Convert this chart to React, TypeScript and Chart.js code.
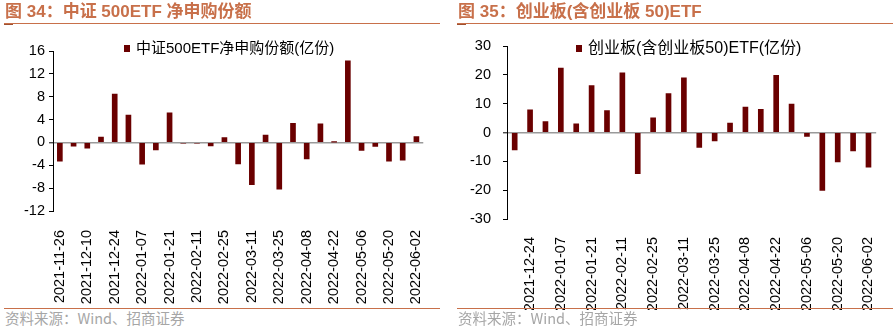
import React, { useEffect, useRef } from "react";
import { Chart, registerables } from "chart.js";

Chart.register(...registerables);

// ---------- data ----------
const leftDates = [
  "2021-11-26", "2021-12-03", "2021-12-10", "2021-12-17", "2021-12-24", "2021-12-31",
  "2022-01-07", "2022-01-14", "2022-01-21", "2022-01-28", "2022-02-11", "2022-02-18",
  "2022-02-25", "2022-03-04", "2022-03-11", "2022-03-18", "2022-03-25", "2022-04-01",
  "2022-04-08", "2022-04-15", "2022-04-22", "2022-04-29", "2022-05-06", "2022-05-13",
  "2022-05-20", "2022-05-27", "2022-06-02",
];
const leftValues = [
  -3.3, -0.64, -1.0, 0.93, 8.46, 4.8, -3.8, -1.33, 5.2, -0.15, -0.15, -0.6, 0.87, -3.77,
  -7.4, 1.28, -8.2, 3.36, -2.9, 3.25, 0.05, 14.3, -1.4, -0.7, -3.3, -3.1, 1.04,
];
const rightDates = [
  "2021-12-17", "2021-12-24", "2021-12-31", "2022-01-07", "2022-01-14", "2022-01-21",
  "2022-01-28", "2022-02-11", "2022-02-18", "2022-02-25", "2022-03-04", "2022-03-11",
  "2022-03-18", "2022-03-25", "2022-04-01", "2022-04-08", "2022-04-15", "2022-04-22",
  "2022-04-29", "2022-05-06", "2022-05-13", "2022-05-20", "2022-05-27", "2022-06-02",
];
const rightValues = [
  -6.0, 7.9, 3.8, 22.3, 3.0, 16.3, 7.6, 20.7, -14.3, 5.1, 13.5, 19.0, -5.2, -2.9, 3.3, 8.8,
  8.0, 19.8, 9.9, -1.4, -20.1, -10.2, -6.4, -12.0,
];
const leftTitle = "图 34：中证 500ETF 净申购份额";
const rightTitle = "图 35：创业板(含创业板 50)ETF";
const leftLegend = "中证500ETF净申购份额(亿份)";
const rightLegend = "创业板(含创业板50)ETF(亿份)";
const sourceText = "资料来源：Wind、招商证券";

const BAR = "#6A0000";
const ORANGE = "#C8704A";
const LATIN = '"Liberation Sans", Arial, "Noto Sans CJK SC", sans-serif';

type PanelProps = {
  labels: string[];
  values: number[];
  min: number;
  max: number;
  step: number;
  labelParity: number;
  width: number;
  height: number;
  padLeft: number;
  padRight: number;
  padTop: number;
  yWidth: number;
  xHeight: number;
  yPad: number;
  xPad: number;
};

function BarPanel(p: PanelProps) {
  const ref = useRef<HTMLCanvasElement | null>(null);
  useEffect(() => {
    if (!ref.current) return;
    const chart = new Chart(ref.current, {
      type: "bar",
      data: {
        labels: p.labels,
        datasets: [
          {
            data: p.values,
            backgroundColor: BAR,
            borderWidth: 0,
            barThickness: 5,
          },
        ],
      },
      options: {
        animation: false,
        responsive: false,
        maintainAspectRatio: false,
        layout: { padding: { left: p.padLeft, right: p.padRight, top: p.padTop, bottom: 0 } },
        plugins: { legend: { display: false }, tooltip: { enabled: false }, title: { display: false } },
        scales: {
          x: {
            grid: { display: false },
            border: { display: false },
            ticks: {
              autoSkip: false,
              minRotation: 90,
              maxRotation: 90,
              padding: p.xPad,
              color: "#000",
              font: { family: LATIN, size: 14.5 },
              callback: (_v: any, i: number) => (i % 2 === p.labelParity ? p.labels[i] : ""),
            },
            afterFit: (s: any) => {
              s.height = p.xHeight;
            },
          },
          y: {
            min: p.min,
            max: p.max,
            grid: {
              drawOnChartArea: true,
              drawTicks: true,
              tickLength: 4,
              tickColor: "#000",
              tickWidth: 1,
              color: (ctx: any) => (ctx.tick && ctx.tick.value === 0 ? "#9A9A9A" : "rgba(0,0,0,0)"),
              lineWidth: (ctx: any) => (ctx.tick && ctx.tick.value === 0 ? 1.6 : 1),
            },
            border: { display: true, color: "#000", width: 1 },
            ticks: {
              stepSize: p.step,
              padding: p.yPad,
              color: "#000",
              font: { family: LATIN, size: 14.5 },
            },
            afterFit: (s: any) => {
              s.width = p.yWidth;
            },
          },
        },
      },
    });
    return () => chart.destroy();
  }, []);
  return <canvas ref={ref} width={p.width} height={p.height} style={{ width: p.width, height: p.height, display: "block" }} />;
}

function Legend({ text, left, top, size }: { text: string; left: number; top: number; size: number }) {
  return (
    <div
      style={{
        position: "absolute",
        left,
        top,
        display: "flex",
        alignItems: "center",
        fontFamily: LATIN,
        fontSize: size,
        color: "#000",
        whiteSpace: "nowrap",
        lineHeight: "16px",
      }}
    >
      <span style={{ display: "inline-block", width: 6, height: 7, background: BAR, marginRight: 6 }} />
      <span>{text}</span>
    </div>
  );
}

function Frame({ left, title }: { left: number; title: string }) {
  return (
    <>
      <div
        style={{
          position: "absolute",
          left: left,
          top: 2,
          fontFamily: '"Liberation Sans", Arial, "Noto Sans CJK SC", sans-serif',
          fontWeight: 700,
          fontSize: 17,
          lineHeight: "20px",
          color: ORANGE,
          whiteSpace: "nowrap",
        }}
      >
        {title}
      </div>
      <div style={{ position: "absolute", left: left - 1, top: 23, width: 436, height: 1.3, background: ORANGE }} />
      <div style={{ position: "absolute", left: left - 1, top: 24, width: 9, height: 1.3, background: "#A0502F" }} />
      <div style={{ position: "absolute", left: left - 1, top: 307.5, width: 436, height: 1.5, background: ORANGE }} />
      <div
        style={{
          position: "absolute",
          left: left,
          top: 309,
          fontFamily: '"Noto Sans CJK SC", sans-serif',
          fontSize: 14.5,
          lineHeight: "18px",
          color: "#A6A6A6",
          whiteSpace: "nowrap",
        }}
      >
        {sourceText}
      </div>
    </>
  );
}

export default function App() {
  return (
    <div style={{ position: "absolute", left: 0, top: 0, width: 896, height: 329, background: "#fff", overflow: "hidden" }}>
      <div style={{ position: "absolute", left: 0, top: 0 }}>
        <BarPanel
          labels={leftDates}
          values={leftValues}
          min={-12}
          max={16}
          step={4}
          labelParity={0}
          width={445}
          height={305}
          padLeft={0}
          padRight={10}
          padTop={51}
          yWidth={53}
          xHeight={94}
          yPad={4}
          xPad={11}
        />
      </div>
      <div style={{ position: "absolute", left: 450, top: 0 }}>
        <BarPanel
          labels={rightDates}
          values={rightValues}
          min={-30}
          max={30}
          step={10}
          labelParity={1}
          width={446}
          height={310}
          padLeft={0}
          padRight={6}
          padTop={46}
          yWidth={57}
          xHeight={91}
          yPad={12}
          xPad={10}
        />
      </div>
      <Frame left={5} title={leftTitle} />
      <Frame left={458} title={rightTitle} />
      <Legend text={leftLegend} left={124} top={40} size={15} />
      <Legend text={rightLegend} left={576} top={40} size={16} />
    </div>
  );
}
